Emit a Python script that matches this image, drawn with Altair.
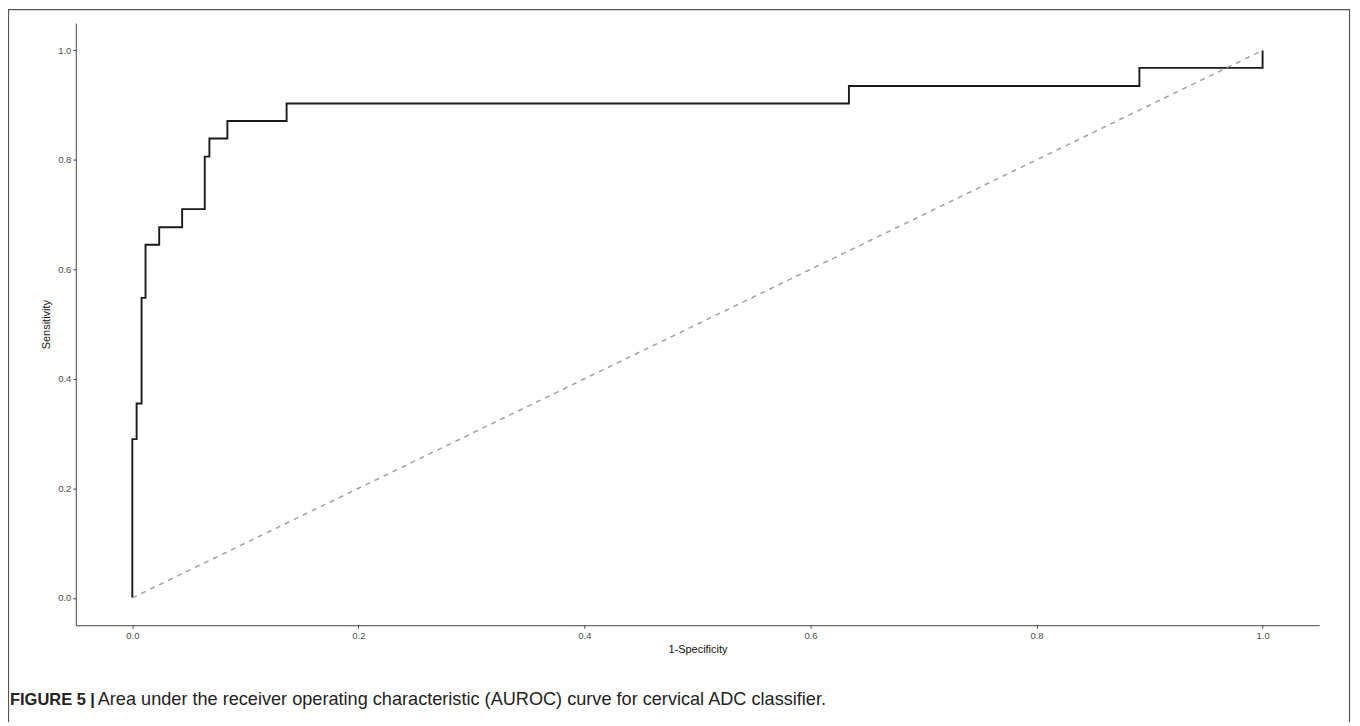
import altair as alt
import pandas as pd

# ROC curve corner points (1-Specificity, Sensitivity)
fpr = [0.0, 0.0, 0.0038, 0.0082, 0.0117, 0.0238, 0.0441, 0.0641, 0.0682, 0.0841, 0.1365, 0.634, 0.891, 1.0]
tpr = [0.0, 0.290, 0.355, 0.548, 0.645, 0.677, 0.710, 0.806, 0.839, 0.871, 0.903, 0.935, 0.968, 1.0]
diag_x = [0.0, 1.0]
diag_y = [0.0, 1.0]
tick_values = [0.0, 0.2, 0.4, 0.6, 0.8, 1.0]
caption_bold = "FIGURE 5 |"
caption_text = "Area under the receiver operating characteristic (AUROC) curve for cervical ADC classifier."

roc = pd.DataFrame({"fpr": fpr, "tpr": tpr, "order": list(range(len(fpr)))})
diag = pd.DataFrame({"fpr": diag_x, "tpr": diag_y, "order": [0, 1]})

xscale = alt.Scale(domain=[-0.05, 1.05], nice=False, zero=False)
yscale = alt.Scale(domain=[-0.05, 1.05], nice=False, zero=False)

xaxis = alt.Axis(title="1-Specificity", values=tick_values, format=".1f", grid=False,
                 tickSize=3, labelPadding=2, titlePadding=4)
yaxis = alt.Axis(title="Sensitivity", values=tick_values, format=".1f", grid=False,
                 tickSize=3, labelPadding=2, titlePadding=6)

line = alt.Chart(roc).mark_line(interpolate="step-after", color="#1a1a1a", strokeWidth=1.9).encode(
    x=alt.X("fpr:Q", scale=xscale, axis=xaxis),
    y=alt.Y("tpr:Q", scale=yscale, axis=yaxis),
    order="order:Q",
)

dline = alt.Chart(diag).mark_line(color="#a0a0a0", strokeDash=[5, 5], strokeWidth=1.5).encode(
    x=alt.X("fpr:Q", scale=xscale),
    y=alt.Y("tpr:Q", scale=yscale),
    order="order:Q",
)

one = pd.DataFrame({"a": [0]})
border = alt.Chart(one).mark_rect(fill=None, stroke="#555555", strokeWidth=1.2).encode(
    x=alt.value(-67.5), x2=alt.value(1277.5), y=alt.value(-13.5), y2=alt.value(800)
)

cap1 = alt.Chart(pd.DataFrame({"t": [caption_bold]})).mark_text(
    align="left", baseline="alphabetic", fontSize=16.5, fontWeight="bold",
    font="Liberation Sans", color="#222"
).encode(text="t:N", x=alt.value(-66), y=alt.value(684))

cap2 = alt.Chart(pd.DataFrame({"t": [caption_text]})).mark_text(
    align="left", baseline="alphabetic", fontSize=18.2, font="Liberation Sans", color="#222"
).encode(text="t:N", x=alt.value(22), y=alt.value(684))

chart = alt.layer(line, dline, border, cap1, cap2).properties(
    width=1247, height=604,
    autosize=alt.AutoSizeParams(type="none"),
    padding={"left": 68, "top": 14, "right": 33, "bottom": 96},
).configure_view(stroke=None).configure_axis(
    domainColor="#444444", domainWidth=1, tickColor="#444444",
    labelColor="#4d4d4d", labelFontSize=9.5, labelFont="Liberation Sans",
    titleColor="#111111", titleFontSize=11, titleFont="Liberation Sans", titleFontWeight="normal",
)

chart.save("out.html", embed_options={"renderer": "svg", "actions": False})
